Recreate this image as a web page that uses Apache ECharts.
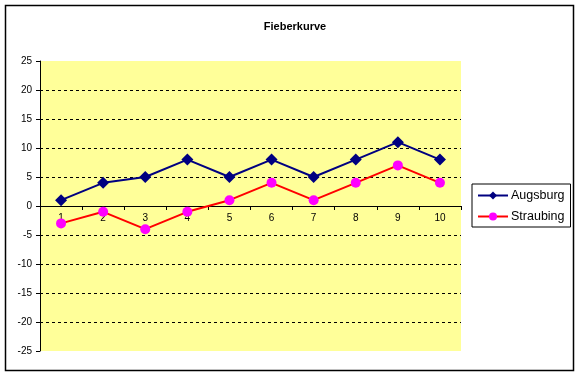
<!DOCTYPE html>
<html>
<head>
<meta charset="utf-8">
<script src="https://cdn.jsdelivr.net/npm/echarts@6/dist/echarts.min.js"></script>
<style>
  html, body { margin: 0; padding: 0; background: #fff; }
  #chart { width: 580px; height: 376px; }
</style>
</head>
<body>
<div id="chart"></div>
<script>
// data
var days = ["1", "2", "3", "4", "5", "6", "7", "8", "9", "10"];
var augsburg = [1, 4, 5, 8, 5, 8, 5, 8, 11, 8];
var straubing = [-3, -1, -4, -1, 1, 4, 1, 4, 7, 4];

var font = "Arial, 'Liberation Sans', sans-serif";
var myChart = echarts.init(document.getElementById("chart"));

var option = {
  backgroundColor: "#ffffff",
  animation: false,
  title: {
    text: "Fieberkurve",
    left: 290,
    textAlign: "center",
    top: 16,
    textStyle: { fontSize: 11, fontWeight: "bold", color: "#000", fontFamily: font }
  },
  graphic: [
    {
      type: "rect",
      shape: { x: 5.5, y: 5.5, width: 568, height: 365 },
      style: { fill: null, stroke: "#000", lineWidth: 1.5 },
      z: 100
    }
  ],
  legend: {
    orient: "vertical",
    left: 472,
    top: 184,
    padding: [5, 6, 4, 5],
    itemGap: 8,
    itemWidth: 30,
    itemHeight: 10,
    borderColor: "#000",
    borderWidth: 1,
    backgroundColor: "#fff",
    textStyle: { fontSize: 12.5, color: "#000", fontFamily: font, padding: [0, 0, 0, -2] },
    data: ["Augsburg", "Straubing"]
  },
  grid: {
    left: 40,
    top: 61,
    right: 119,
    bottom: 25,
    show: true,
    backgroundColor: "#ffff99",
    borderWidth: 0
  },
  xAxis: {
    type: "category",
    data: days,
    boundaryGap: true,
    position: "bottom",
    // axis drawn at y = 0 (145 px above the bottom of the plot)
    offset: -145,
    axisLine: { onZero: false, lineStyle: { color: "#000", width: 1 } },
    axisTick: { show: true, interval: 0, length: 4, lineStyle: { color: "#000" } },
    axisLabel: { interval: 0, margin: 7, fontSize: 10, color: "#000", fontFamily: font },
    splitLine: { show: false }
  },
  yAxis: {
    type: "value",
    min: -25,
    max: 25,
    interval: 5,
    axisLine: { show: true, lineStyle: { color: "#000", width: 1 } },
    axisTick: { show: true, length: 4, lineStyle: { color: "#000" } },
    axisLabel: { fontSize: 10, color: "#000", margin: 8, fontFamily: font },
    splitLine: {
      show: true,
      showMinLine: false,
      showMaxLine: false,
      lineStyle: { color: "#000", type: [3, 3], width: 1 }
    }
  },
  series: [
    {
      name: "Augsburg",
      type: "line",
      data: augsburg,
      symbol: "diamond",
      symbolSize: 12,
      lineStyle: { color: "#000080", width: 2 },
      itemStyle: { color: "#000080" }
    },
    {
      name: "Straubing",
      type: "line",
      data: straubing,
      symbol: "circle",
      symbolSize: 10,
      lineStyle: { color: "#ff0000", width: 2 },
      itemStyle: { color: "#ff00ff" }
    }
  ]
};

myChart.setOption(option);
</script>
</body>
</html>
